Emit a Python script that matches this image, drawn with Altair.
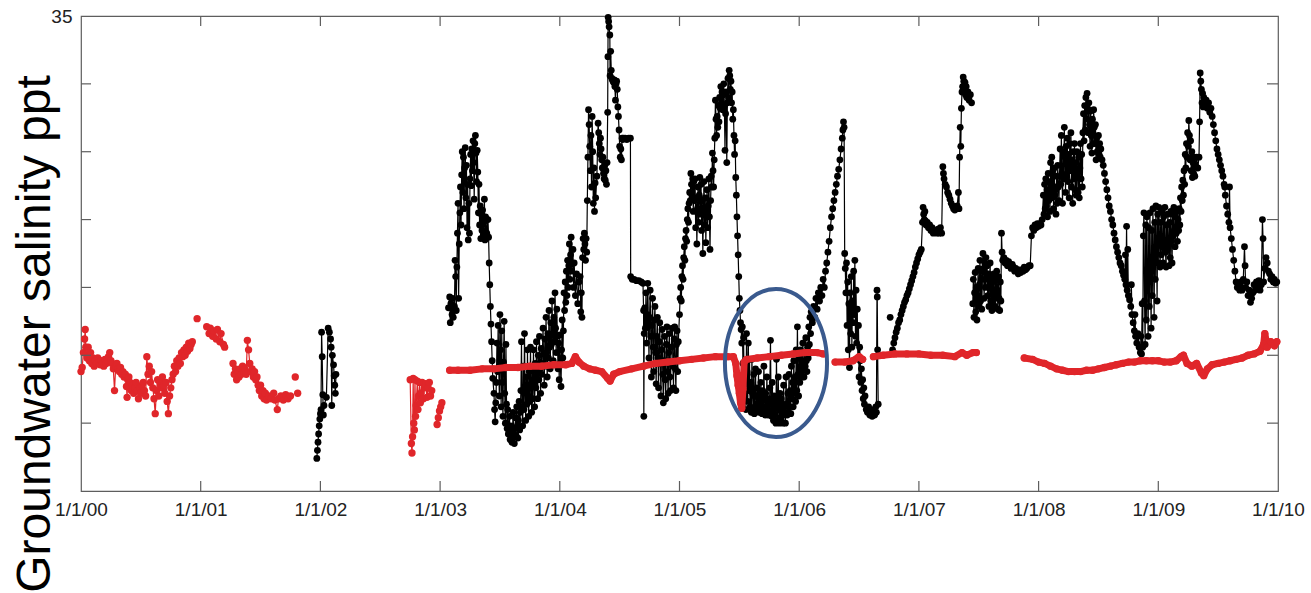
import altair as alt
import pandas as pd

# ---------------------------------------------------------------------------
# Data: (years after 1 Jan 2000, groundwater salinity in ppt)
# ---------------------------------------------------------------------------
black_2002 = [(1.97, 2.4), (1.975, 3.0), (1.98, 3.6), (1.985, 4.2), (1.99, 4.8), (1.995, 5.3),
              (2.0, 5.7), (2.005, 6.0), (2.01, 11.7), (2.015, 9.9), (2.02, 7.1), (2.025, 5.6),
              (2.03, 6.3), (2.05, 6.9), (2.065, 12.0), (2.075, 11.7), (2.085, 11.2), (2.09, 10.6),
              (2.095, 6.3), (2.10, 10.0), (2.11, 9.3), (2.115, 8.5), (2.12, 7.8), (2.125, 7.2), (2.13, 8.6)]

black_2003_2004 = [
    (3.07, 13.5), (3.08, 14.3), (3.085, 12.4), (3.09, 13.8), (3.10, 13.0), (3.105, 14.2), (3.11, 12.8),
    (3.12, 13.6), (3.125, 17.0), (3.13, 15.8), (3.135, 13.3), (3.14, 16.5), (3.145, 19.0), (3.15, 21.2),
    (3.155, 14.2), (3.16, 18.2), (3.165, 20.5), (3.17, 22.4), (3.175, 19.6), (3.18, 23.3), (3.185, 25.0),
    (3.19, 22.0), (3.195, 24.6), (3.20, 20.8), (3.205, 23.8), (3.21, 25.3), (3.215, 21.6), (3.22, 24.0),
    (3.225, 19.4), (3.23, 22.6), (3.235, 18.5), (3.24, 21.2), (3.245, 19.0), (3.25, 23.0), (3.255, 24.8),
    (3.26, 22.5), (3.265, 25.2), (3.27, 23.6), (3.275, 25.8), (3.28, 24.2), (3.285, 21.5), (3.29, 25.6),
    (3.295, 26.2), (3.30, 24.9), (3.305, 22.8), (3.31, 25.1), (3.315, 23.5), (3.32, 20.5), (3.325, 22.6),
    (3.33, 19.6), (3.335, 21.0), (3.34, 18.6), (3.345, 20.4), (3.35, 19.2), (3.355, 20.7), (3.36, 18.8),
    (3.365, 19.8), (3.37, 21.5), (3.375, 18.5), (3.38, 20.2), (3.39, 19.0), (3.40, 20.0), (3.405, 18.7),
    (3.41, 16.8), (3.415, 15.2), (3.42, 13.6), (3.425, 12.3), (3.43, 11.0), (3.435, 9.6), (3.44, 8.3),
    (3.45, 7.2), (3.455, 6.0), (3.46, 5.1), (3.465, 6.5), (3.47, 8.0), (3.475, 10.9), (3.48, 8.8),
    (3.485, 12.2), (3.49, 9.0), (3.495, 7.0), (3.50, 13.0), (3.505, 10.4), (3.51, 6.2), (3.515, 11.8),
    (3.52, 8.0), (3.525, 5.5), (3.53, 9.5), (3.535, 12.5), (3.54, 7.2), (3.545, 5.0), (3.55, 10.8),
    (3.555, 6.4), (3.56, 4.6), (3.565, 6.0), (3.57, 4.2), (3.58, 5.5), (3.585, 3.8), (3.59, 4.8),
    (3.60, 3.6), (3.605, 4.4), (3.61, 5.8), (3.615, 4.0), (3.62, 3.5), (3.625, 4.6), (3.63, 5.4),
    (3.635, 4.1), (3.64, 6.2), (3.645, 4.8), (3.65, 3.9), (3.655, 5.2), (3.66, 6.6), (3.665, 4.5),
    (3.67, 5.8), (3.675, 7.4), (3.68, 11.0), (3.685, 6.2), (3.69, 4.8), (3.695, 9.2), (3.70, 6.0),
    (3.705, 11.6), (3.71, 7.5), (3.715, 5.2), (3.72, 8.4), (3.725, 6.4), (3.73, 10.4), (3.735, 7.0),
    (3.74, 5.5), (3.745, 8.8), (3.75, 6.6), (3.755, 10.6), (3.76, 7.8), (3.765, 5.8), (3.77, 9.0),
    (3.775, 6.8), (3.78, 10.4), (3.785, 8.0), (3.79, 6.2), (3.795, 9.4), (3.80, 7.6), (3.805, 11.0),
    (3.81, 8.8), (3.815, 6.8), (3.82, 10.0), (3.825, 8.2), (3.83, 11.4), (3.835, 9.0), (3.84, 7.2),
    (3.845, 10.5), (3.85, 8.6), (3.86, 12.0), (3.865, 9.4), (3.87, 7.8), (3.875, 11.2), (3.88, 9.2),
    (3.885, 12.8), (3.89, 10.2), (3.895, 8.4), (3.90, 11.6), (3.905, 9.8), (3.91, 13.3), (3.915, 10.6),
    (3.92, 9.0), (3.925, 12.4), (3.93, 10.8), (3.935, 14.0), (3.94, 11.6), (3.945, 9.6), (3.95, 12.8),
    (3.955, 11.0), (3.96, 14.6), (3.965, 12.0), (3.97, 10.2), (3.975, 13.4), (3.98, 11.4), (3.985, 9.0),
    (3.99, 10.9), (3.995, 8.2), (4.00, 11.5), (4.005, 9.4), (4.01, 7.7), (4.015, 10.4), (4.02, 12.6),
    (4.025, 9.8), (4.03, 11.8), (4.035, 14.6), (4.04, 13.3), (4.045, 15.4), (4.05, 13.9), (4.055, 16.2),
    (4.06, 14.4), (4.065, 17.0), (4.07, 15.0), (4.075, 16.6), (4.08, 18.2), (4.085, 15.6), (4.09, 17.4),
    (4.095, 18.7), (4.10, 16.2), (4.11, 17.8), (4.115, 15.0), (4.12, 16.8), (4.13, 14.4), (4.14, 16.0),
    (4.15, 13.8), (4.16, 15.4), (4.17, 15.8), (4.175, 13.2), (4.18, 14.6), (4.185, 12.8), (4.19, 17.2),
    (4.195, 18.6), (4.20, 17.8), (4.205, 19.0), (4.21, 18.2), (4.215, 17.0), (4.22, 18.6), (4.225, 17.6),
    (4.23, 21.4), (4.235, 24.6), (4.24, 28.1), (4.245, 27.0), (4.25, 25.4), (4.255, 23.6), (4.26, 26.2),
    (4.265, 22.4), (4.27, 27.6), (4.275, 25.0), (4.28, 21.2), (4.285, 23.8), (4.29, 20.6), (4.295, 22.7),
    (4.30, 21.6), (4.31, 23.2), (4.32, 27.1), (4.325, 26.4), (4.33, 25.6), (4.335, 24.8), (4.34, 26.0),
    (4.345, 25.2), (4.35, 24.4), (4.355, 23.8), (4.36, 24.6), (4.365, 23.4), (4.37, 23.0), (4.375, 24.0),
    (4.38, 22.9), (4.385, 23.6), (4.39, 22.6), (4.395, 24.2), (4.40, 27.9), (4.402, 32.0), (4.404, 34.9),
    (4.408, 34.6), (4.412, 34.2), (4.418, 33.6), (4.42, 30.6), (4.425, 32.4), (4.43, 31.0), (4.435, 30.4),
    (4.44, 30.3), (4.445, 30.2), (4.45, 30.1), (4.455, 30.3), (4.46, 29.8), (4.465, 28.8), (4.47, 30.0),
    (4.475, 30.2), (4.48, 29.6), (4.485, 28.3), (4.49, 27.6), (4.495, 26.6), (4.50, 25.4), (4.505, 24.6),
    (4.51, 25.2), (4.515, 24.4), (4.52, 26.0), (4.525, 25.9), (4.53, 26.0), (4.545, 26.0), (4.56, 25.9),
    (4.575, 26.0), (4.59, 26.0), (4.592, 15.8), (4.605, 15.6), (4.62, 15.6), (4.64, 15.5), (4.66, 15.5),
    (4.68, 15.4), (4.695, 15.3), (4.70, 13.3), (4.702, 5.5), (4.705, 11.6), (4.71, 13.5), (4.715, 12.0),
    (4.72, 14.6), (4.725, 10.9), (4.73, 13.0), (4.735, 15.3), (4.74, 12.4), (4.745, 9.8), (4.75, 12.8),
    (4.755, 14.8), (4.76, 11.4), (4.765, 8.4), (4.77, 12.2), (4.775, 14.2), (4.78, 10.6), (4.785, 8.8),
    (4.79, 12.6), (4.795, 13.6), (4.80, 10.2), (4.805, 7.9), (4.81, 11.4), (4.815, 12.8), (4.82, 9.8),
    (4.825, 7.6), (4.83, 11.0), (4.835, 12.4), (4.84, 9.4), (4.845, 7.0), (4.85, 10.4), (4.855, 11.9),
    (4.86, 8.6), (4.865, 6.5), (4.87, 9.6), (4.875, 11.4), (4.88, 8.2), (4.885, 6.8), (4.89, 10.8),
    (4.895, 12.1), (4.90, 8.8), (4.905, 7.2), (4.91, 10.2), (4.915, 11.6), (4.92, 8.4), (4.925, 7.4),
    (4.93, 10.6), (4.94, 12.0), (4.945, 9.2), (4.95, 7.6), (4.955, 11.2), (4.96, 12.1), (4.965, 9.0),
    (4.97, 7.4), (4.975, 10.8), (4.98, 11.8), (4.985, 8.8), (4.99, 11.0)]

black_2005_2006 = [
    (5.00, 13.0), (5.005, 14.2), (5.01, 15.0), (5.015, 14.0), (5.02, 15.8), (5.025, 16.6), (5.03, 15.6),
    (5.035, 17.2), (5.04, 18.0), (5.045, 17.0), (5.05, 18.6), (5.055, 19.2), (5.06, 18.4), (5.065, 20.0),
    (5.07, 20.8), (5.075, 19.8), (5.08, 21.2), (5.085, 22.0), (5.09, 21.4), (5.095, 23.4), (5.10, 22.6),
    (5.105, 21.8), (5.11, 23.0), (5.115, 20.6), (5.12, 22.8), (5.125, 21.4), (5.13, 23.0), (5.135, 19.4),
    (5.14, 21.6), (5.145, 18.2), (5.15, 20.8), (5.155, 22.4), (5.16, 19.8), (5.165, 21.8), (5.17, 23.1),
    (5.175, 20.4), (5.18, 22.6), (5.185, 19.2), (5.19, 21.4), (5.195, 17.5), (5.20, 20.8), (5.205, 22.8),
    (5.21, 19.6), (5.215, 21.6), (5.22, 18.3), (5.225, 20.6), (5.23, 22.2), (5.235, 19.4), (5.24, 21.0),
    (5.245, 23.0), (5.25, 20.2), (5.255, 17.8), (5.26, 21.4), (5.265, 23.2), (5.27, 22.4), (5.275, 24.9),
    (5.28, 23.6), (5.285, 22.4), (5.29, 24.4), (5.295, 26.0), (5.30, 28.8), (5.305, 27.4), (5.31, 26.2),
    (5.315, 27.6), (5.32, 26.8), (5.325, 28.4), (5.33, 27.2), (5.335, 29.0), (5.34, 28.2), (5.345, 29.8),
    (5.35, 28.6), (5.355, 29.4), (5.36, 28.1), (5.365, 29.2), (5.37, 30.0), (5.375, 28.4), (5.38, 25.1),
    (5.385, 27.8), (5.39, 29.4), (5.395, 24.2), (5.40, 28.6), (5.405, 30.4), (5.41, 29.0), (5.415, 31.0),
    (5.42, 30.6), (5.425, 29.6), (5.43, 30.2), (5.435, 28.6), (5.44, 29.4), (5.445, 27.4), (5.45, 28.1),
    (5.455, 26.2), (5.46, 24.8), (5.465, 25.8), (5.47, 23.1), (5.475, 21.8), (5.48, 20.2), (5.485, 18.8),
    (5.49, 17.4), (5.495, 15.8), (5.50, 14.2), (5.505, 13.3), (5.51, 12.4), (5.515, 11.9), (5.52, 10.9),
    (5.525, 12.1), (5.53, 9.4), (5.535, 11.3), (5.54, 8.2), (5.545, 7.0), (5.55, 9.6), (5.555, 6.0),
    (5.56, 11.6), (5.565, 8.8), (5.57, 6.6), (5.575, 10.9), (5.58, 7.4), (5.585, 9.7), (5.59, 6.2),
    (5.595, 8.0), (5.60, 5.8), (5.605, 9.7), (5.61, 7.2), (5.615, 6.0), (5.62, 8.6), (5.625, 5.7),
    (5.63, 7.0), (5.635, 9.0), (5.64, 6.4), (5.645, 5.9), (5.65, 7.6), (5.655, 6.2), (5.66, 8.8),
    (5.665, 5.8), (5.67, 7.2), (5.675, 6.0), (5.68, 8.0), (5.685, 6.6), (5.69, 5.7), (5.695, 7.4),
    (5.70, 6.2), (5.705, 9.2), (5.71, 6.8), (5.715, 5.6), (5.72, 7.2), (5.725, 6.0), (5.73, 8.4),
    (5.735, 6.2), (5.74, 5.6), (5.745, 6.8), (5.75, 5.8), (5.755, 7.6), (5.76, 11.1), (5.765, 6.4),
    (5.77, 5.5), (5.775, 8.0), (5.78, 6.0), (5.785, 5.2), (5.79, 7.0), (5.795, 5.6), (5.80, 6.6),
    (5.805, 5.0), (5.81, 9.7), (5.815, 6.2), (5.82, 5.2), (5.825, 8.4), (5.83, 6.0), (5.835, 5.0),
    (5.84, 7.2), (5.845, 5.4), (5.85, 6.8), (5.855, 5.1), (5.86, 6.4), (5.865, 5.0), (5.87, 7.8),
    (5.875, 5.6), (5.88, 6.2), (5.885, 5.0), (5.89, 8.4), (5.895, 6.4), (5.90, 5.6), (5.905, 7.2),
    (5.91, 5.8), (5.915, 8.6), (5.92, 6.2), (5.925, 7.4), (5.93, 5.7), (5.935, 9.2), (5.94, 6.8),
    (5.945, 8.0), (5.95, 6.2), (5.955, 9.6), (5.96, 7.2), (5.965, 8.4), (5.97, 6.6), (5.975, 10.4),
    (5.98, 7.4), (5.985, 12.1), (5.99, 8.6), (5.995, 7.0), (6.00, 9.8), (6.005, 8.0), (6.01, 10.4),
    (6.015, 8.6), (6.02, 9.6), (6.025, 8.4), (6.03, 10.9), (6.035, 9.0), (6.04, 8.4), (6.045, 10.2),
    (6.05, 9.2), (6.055, 11.3), (6.06, 9.6), (6.065, 8.8), (6.07, 10.6), (6.075, 9.8), (6.08, 12.1),
    (6.085, 10.8), (6.09, 12.8), (6.095, 11.6), (6.10, 13.2), (6.11, 12.4), (6.12, 13.6), (6.13, 12.8),
    (6.14, 14.2), (6.15, 13.4), (6.16, 14.6), (6.17, 14.0), (6.18, 15.0), (6.19, 14.4), (6.20, 15.6),
    (6.21, 15.0), (6.22, 16.2), (6.23, 16.8), (6.24, 17.6), (6.25, 18.4), (6.26, 19.4), (6.27, 20.2),
    (6.28, 20.8), (6.29, 21.4), (6.30, 22.0), (6.31, 22.6), (6.32, 23.2), (6.33, 23.7), (6.34, 24.4),
    (6.35, 25.2), (6.36, 26.0), (6.365, 26.6), (6.37, 27.2), (6.375, 26.8), (6.38, 17.5), (6.385, 16.4),
    (6.39, 14.6), (6.395, 16.8), (6.40, 12.2), (6.405, 15.4), (6.41, 10.4), (6.415, 13.8), (6.42, 9.1),
    (6.425, 14.6), (6.43, 11.6), (6.435, 15.8), (6.44, 10.6), (6.445, 14.0), (6.45, 12.4), (6.455, 16.2),
    (6.46, 13.0), (6.465, 17.0), (6.47, 11.4), (6.475, 14.8), (6.48, 10.9), (6.485, 13.4), (6.49, 9.8),
    (6.495, 12.2), (6.50, 8.4), (6.505, 10.6), (6.51, 9.6), (6.515, 8.0), (6.52, 9.0), (6.525, 7.4),
    (6.53, 8.2), (6.535, 6.8), (6.54, 7.6), (6.545, 6.4), (6.55, 7.0), (6.56, 6.0), (6.57, 5.8),
    (6.58, 6.2), (6.59, 5.6), (6.60, 5.9), (6.61, 5.5), (6.62, 6.0), (6.63, 5.6), (6.64, 6.2),
    (6.645, 5.8), (6.65, 14.8), (6.652, 14.3), (6.655, 10.4), (6.66, 6.4)]

black_2006_single = [(6.76, 12.8)]

black_2007 = [
    (6.78, 10.4), (6.79, 10.9), (6.80, 11.3), (6.81, 11.7), (6.82, 12.0), (6.83, 12.4), (6.84, 12.6),
    (6.85, 13.0), (6.86, 13.3), (6.87, 13.6), (6.88, 13.9), (6.89, 14.1), (6.90, 14.4), (6.91, 14.6),
    (6.92, 14.9), (6.93, 15.2), (6.94, 15.5), (6.95, 15.8), (6.96, 16.1), (6.97, 16.5), (6.98, 16.8),
    (6.99, 17.1), (7.00, 17.4), (7.01, 17.6), (7.02, 17.8), (7.03, 19.8), (7.035, 20.9), (7.04, 20.4),
    (7.045, 20.0), (7.05, 20.6), (7.055, 19.9), (7.06, 19.6), (7.07, 19.8), (7.08, 19.4), (7.09, 19.6),
    (7.10, 19.2), (7.11, 19.4), (7.12, 19.0), (7.13, 19.2), (7.14, 19.1), (7.15, 19.0), (7.16, 19.3),
    (7.17, 19.0), (7.18, 19.4), (7.19, 19.0), (7.20, 23.9), (7.205, 23.4), (7.21, 23.0), (7.22, 22.6),
    (7.23, 22.4), (7.24, 22.0), (7.25, 21.8), (7.26, 21.5), (7.27, 21.2), (7.28, 21.0), (7.29, 20.8),
    (7.30, 20.7), (7.31, 20.9), (7.32, 21.0), (7.33, 22.0), (7.335, 20.8), (7.34, 24.6), (7.345, 26.8),
    (7.35, 25.4), (7.355, 28.2), (7.36, 29.4), (7.365, 29.8), (7.37, 30.5), (7.375, 30.2), (7.38, 29.6),
    (7.385, 30.1), (7.39, 29.2), (7.395, 29.8), (7.40, 29.0), (7.41, 29.4), (7.42, 28.8), (7.43, 29.2),
    (7.44, 28.6)]

black_2008_2009 = [
    (7.45, 13.8), (7.455, 15.6), (7.46, 12.8), (7.465, 14.6), (7.47, 16.1), (7.475, 13.2), (7.48, 15.0),
    (7.485, 12.6), (7.49, 14.4), (7.495, 16.4), (7.50, 13.6), (7.505, 15.2), (7.51, 17.0), (7.515, 14.0),
    (7.52, 16.2), (7.525, 13.4), (7.53, 15.6), (7.535, 17.5), (7.54, 16.4), (7.545, 14.2), (7.55, 16.8),
    (7.555, 15.0), (7.56, 17.2), (7.565, 15.6), (7.57, 16.6), (7.575, 14.4), (7.58, 16.0), (7.585, 13.6),
    (7.59, 15.2), (7.595, 16.8), (7.60, 14.0), (7.605, 15.8), (7.61, 13.3), (7.615, 15.4), (7.62, 13.8),
    (7.625, 16.0), (7.63, 14.6), (7.635, 13.6), (7.64, 15.6), (7.645, 14.2), (7.65, 16.2), (7.655, 14.8),
    (7.66, 13.4), (7.665, 15.8), (7.67, 14.2), (7.675, 13.3), (7.68, 15.4), (7.685, 14.0), (7.69, 19.0),
    (7.695, 17.6), (7.70, 17.0), (7.71, 17.2), (7.72, 16.8), (7.73, 17.0), (7.74, 16.6), (7.75, 16.9),
    (7.76, 16.7), (7.77, 16.4), (7.78, 16.7), (7.79, 16.5), (7.80, 16.2), (7.81, 16.4), (7.82, 16.2),
    (7.83, 16.0), (7.84, 16.3), (7.85, 16.1), (7.86, 16.3), (7.87, 16.2), (7.88, 16.5), (7.89, 16.3),
    (7.90, 16.4), (7.91, 16.5), (7.92, 16.6), (7.93, 16.6), (7.94, 18.8), (7.95, 19.4), (7.96, 19.2),
    (7.97, 19.6), (7.98, 19.4), (7.99, 19.7), (8.00, 19.5), (8.01, 19.7), (8.02, 19.6), (8.03, 20.0),
    (8.04, 21.8), (8.045, 20.4), (8.05, 22.6), (8.055, 20.8), (8.06, 23.0), (8.065, 21.0), (8.07, 22.2),
    (8.075, 20.2), (8.08, 23.4), (8.085, 21.4), (8.09, 22.8), (8.095, 20.6), (8.10, 24.2), (8.105, 22.0),
    (8.11, 24.6), (8.115, 21.6), (8.12, 23.6), (8.125, 20.8), (8.13, 23.8), (8.135, 21.8), (8.14, 22.4),
    (8.145, 20.4), (8.15, 23.2), (8.155, 21.2), (8.16, 24.0), (8.165, 22.4), (8.17, 21.4), (8.18, 25.2),
    (8.185, 22.6), (8.19, 26.2), (8.195, 23.4), (8.20, 21.2), (8.205, 25.0), (8.21, 23.0), (8.215, 26.8),
    (8.22, 24.6), (8.225, 22.0), (8.23, 25.4), (8.235, 23.2), (8.24, 26.0), (8.245, 22.8), (8.25, 24.8),
    (8.255, 21.6), (8.26, 25.6), (8.265, 23.6), (8.27, 26.4), (8.275, 22.4), (8.28, 24.4), (8.285, 21.2),
    (8.29, 25.0), (8.295, 23.0), (8.30, 25.6), (8.305, 22.2), (8.31, 24.2), (8.315, 21.8), (8.32, 25.0),
    (8.325, 23.4), (8.33, 22.0), (8.335, 24.6), (8.34, 21.6), (8.345, 23.8), (8.35, 25.6), (8.355, 23.0),
    (8.36, 24.8), (8.365, 22.4), (8.37, 26.4), (8.375, 27.8), (8.38, 25.8), (8.385, 28.4), (8.39, 26.6),
    (8.395, 29.0), (8.40, 27.4), (8.405, 29.3), (8.41, 28.2), (8.415, 26.4), (8.42, 28.6), (8.425, 27.0),
    (8.43, 25.4), (8.435, 28.0), (8.44, 26.2), (8.445, 24.9), (8.45, 27.4), (8.455, 25.6), (8.46, 28.1),
    (8.465, 26.8), (8.47, 25.6), (8.475, 27.0), (8.48, 24.4), (8.485, 26.0), (8.49, 25.0), (8.50, 26.2),
    (8.505, 24.8), (8.51, 25.6), (8.515, 24.6), (8.52, 25.2), (8.53, 24.4), (8.54, 24.0), (8.55, 23.4),
    (8.56, 22.8), (8.57, 22.2), (8.58, 21.6), (8.59, 21.0), (8.60, 20.6), (8.61, 20.0), (8.62, 19.6),
    (8.63, 19.0), (8.64, 18.5), (8.65, 18.0), (8.66, 17.6), (8.67, 17.2), (8.68, 16.8), (8.69, 16.6),
    (8.70, 16.2), (8.71, 15.9), (8.72, 15.6), (8.725, 17.4), (8.73, 15.2), (8.735, 19.5), (8.74, 14.8),
    (8.745, 17.8), (8.75, 14.4), (8.76, 14.1), (8.77, 13.6), (8.775, 15.2), (8.78, 13.0), (8.79, 12.4),
    (8.80, 11.8), (8.805, 13.0), (8.81, 11.4), (8.82, 10.9), (8.83, 11.6), (8.84, 10.6), (8.85, 10.2),
    (8.855, 11.4), (8.86, 10.1), (8.865, 13.8), (8.87, 10.6), (8.875, 18.8), (8.88, 20.5), (8.885, 14.0),
    (8.89, 10.8), (8.895, 19.6), (8.90, 12.6), (8.905, 20.2), (8.91, 15.8), (8.915, 11.4), (8.92, 19.4),
    (8.925, 13.6), (8.93, 20.5), (8.935, 16.4), (8.94, 12.0), (8.945, 19.2), (8.95, 14.4), (8.955, 20.8),
    (8.96, 17.2), (8.965, 12.8), (8.97, 19.8), (8.975, 15.6), (8.98, 21.0), (8.985, 18.0), (8.99, 14.0),
    (8.995, 20.4), (9.00, 16.8), (9.005, 20.9), (9.01, 18.6), (9.015, 16.5), (9.02, 19.8), (9.025, 17.4),
    (9.03, 20.6), (9.035, 18.0), (9.04, 16.8), (9.045, 20.2), (9.05, 18.4), (9.055, 20.9), (9.06, 17.6),
    (9.065, 16.5), (9.07, 19.6), (9.075, 17.8), (9.08, 20.4), (9.085, 18.2), (9.09, 16.6), (9.095, 19.8),
    (9.10, 17.2), (9.105, 20.6), (9.11, 18.4), (9.115, 16.8), (9.12, 20.4), (9.125, 18.8), (9.13, 20.9),
    (9.135, 19.2), (9.14, 18.0), (9.145, 20.2), (9.15, 19.0), (9.155, 20.6), (9.16, 18.4), (9.165, 20.0),
    (9.17, 19.2), (9.175, 20.8), (9.18, 19.6), (9.185, 21.6), (9.19, 20.6), (9.195, 22.4), (9.20, 21.4),
    (9.205, 22.9), (9.21, 21.8), (9.215, 23.6), (9.22, 22.6), (9.225, 24.8), (9.23, 23.8), (9.235, 25.6),
    (9.24, 24.6), (9.245, 26.4), (9.25, 25.4), (9.255, 27.3), (9.26, 26.2), (9.265, 24.4), (9.27, 25.8),
    (9.275, 23.6), (9.28, 25.0), (9.285, 23.1), (9.29, 24.2), (9.295, 23.4), (9.30, 24.6), (9.305, 23.2),
    (9.31, 24.0), (9.32, 24.6), (9.33, 23.8), (9.34, 24.6), (9.345, 27.2), (9.35, 30.8), (9.355, 30.2),
    (9.36, 29.6), (9.365, 28.6), (9.37, 29.3), (9.375, 28.3), (9.38, 29.0), (9.39, 28.4), (9.40, 28.8),
    (9.41, 28.2), (9.42, 28.6), (9.43, 27.9), (9.44, 28.2), (9.45, 27.6), (9.46, 27.0), (9.47, 26.4),
    (9.48, 25.8), (9.49, 25.2), (9.50, 24.8), (9.51, 24.4), (9.52, 24.0), (9.53, 23.6), (9.54, 23.2),
    (9.55, 22.6), (9.555, 22.4), (9.56, 21.8), (9.57, 21.0), (9.58, 20.4), (9.59, 19.8), (9.595, 22.4),
    (9.60, 19.4), (9.61, 18.6), (9.62, 17.8), (9.63, 17.0), (9.64, 16.2), (9.65, 15.4), (9.66, 15.0),
    (9.67, 15.2), (9.68, 14.8), (9.69, 15.4), (9.70, 14.8), (9.71, 15.6), (9.72, 18.0), (9.725, 16.6),
    (9.73, 15.0), (9.74, 15.4), (9.75, 14.4), (9.76, 14.8), (9.77, 13.9), (9.78, 14.2), (9.79, 14.6),
    (9.80, 15.2), (9.81, 14.8), (9.82, 15.4), (9.83, 15.0), (9.84, 15.5), (9.85, 14.8), (9.86, 15.2),
    (9.87, 20.0), (9.875, 18.6), (9.88, 15.4), (9.89, 16.4), (9.90, 17.2), (9.91, 16.8), (9.92, 16.2),
    (9.93, 16.0), (9.94, 15.6), (9.95, 15.8), (9.96, 15.4), (9.97, 15.6), (9.98, 15.3), (9.99, 15.4)]

red_2000 = [
    (0.00, 8.8), (0.01, 9.1), (0.02, 10.2), (0.03, 11.2), (0.035, 11.9), (0.04, 10.6), (0.05, 9.8),
    (0.06, 10.6), (0.07, 9.6), (0.08, 10.2), (0.09, 9.4), (0.10, 9.8), (0.11, 9.2), (0.12, 9.6),
    (0.13, 9.4), (0.14, 9.8), (0.15, 9.5), (0.16, 9.3), (0.17, 9.6), (0.18, 9.4), (0.19, 9.2),
    (0.20, 9.7), (0.21, 9.4), (0.22, 9.6), (0.23, 9.9), (0.24, 10.2), (0.25, 9.6), (0.26, 9.4),
    (0.27, 9.0), (0.28, 7.4), (0.29, 9.2), (0.30, 9.4), (0.31, 9.0), (0.32, 8.8), (0.33, 9.1),
    (0.34, 8.6), (0.35, 8.8), (0.36, 8.4), (0.37, 8.6), (0.38, 7.7), (0.385, 6.9), (0.39, 8.2),
    (0.40, 8.4), (0.41, 8.0), (0.42, 7.4), (0.43, 7.8), (0.44, 7.2), (0.45, 7.6), (0.46, 8.0),
    (0.47, 7.4), (0.48, 6.8), (0.49, 7.6), (0.50, 7.2), (0.51, 7.8), (0.52, 8.0), (0.53, 7.4),
    (0.54, 7.0), (0.55, 9.9), (0.56, 8.6), (0.57, 9.2), (0.58, 8.0), (0.59, 8.8), (0.60, 7.6),
    (0.61, 6.8), (0.62, 5.7), (0.63, 7.4), (0.64, 8.2), (0.65, 7.0), (0.66, 8.0), (0.67, 7.6),
    (0.68, 8.4), (0.69, 7.8), (0.70, 7.2), (0.71, 8.0), (0.72, 6.6), (0.73, 5.7), (0.74, 7.0),
    (0.75, 7.6), (0.76, 8.2), (0.77, 8.6), (0.78, 9.2), (0.79, 8.8), (0.80, 9.6), (0.81, 9.2),
    (0.82, 9.8), (0.83, 9.4), (0.84, 10.2), (0.85, 9.9), (0.86, 10.4), (0.87, 10.0), (0.88, 10.6),
    (0.89, 10.3), (0.90, 10.9), (0.91, 10.5), (0.92, 10.8), (0.93, 11.0)]
red_2001_a = [(0.97, 12.7)]
red_2001_b = [(1.05, 12.1), (1.07, 11.6), (1.08, 12.0), (1.10, 11.4), (1.11, 11.8), (1.13, 11.2),
              (1.14, 11.9), (1.16, 11.0), (1.17, 11.6), (1.19, 10.8), (1.20, 10.6)]
red_2001_c = [
    (1.27, 9.4), (1.28, 8.6), (1.29, 9.0), (1.30, 8.2), (1.31, 8.8), (1.32, 8.4), (1.33, 9.0),
    (1.34, 8.6), (1.35, 9.2), (1.36, 8.8), (1.37, 9.0), (1.38, 8.6), (1.39, 11.1), (1.40, 10.4),
    (1.41, 9.4), (1.42, 8.8), (1.43, 9.0), (1.44, 8.4), (1.45, 8.8), (1.46, 8.2), (1.47, 8.4),
    (1.48, 7.8), (1.49, 7.4), (1.50, 7.8), (1.51, 7.0), (1.52, 7.4), (1.53, 6.8), (1.54, 7.2),
    (1.55, 6.7), (1.57, 7.0), (1.59, 6.8), (1.61, 7.2), (1.62, 6.7), (1.64, 6.0), (1.65, 6.8),
    (1.67, 7.0), (1.69, 6.7), (1.71, 7.1), (1.73, 6.8), (1.75, 7.0)]
red_2001_d = [(1.79, 8.4)]
red_2001_e = [(1.81, 7.2)]
red_2002 = [
    (2.75, 8.2), (2.76, 3.5), (2.765, 2.8), (2.77, 4.0), (2.775, 8.3), (2.78, 5.0), (2.785, 4.5),
    (2.79, 8.2), (2.795, 5.5), (2.80, 6.3), (2.81, 8.1), (2.815, 6.0), (2.82, 7.0), (2.83, 8.0),
    (2.835, 6.5), (2.84, 7.2), (2.85, 8.0), (2.86, 6.8), (2.87, 7.6), (2.88, 7.9), (2.89, 6.9),
    (2.90, 7.6), (2.91, 8.0), (2.92, 7.0), (2.93, 7.4)]
red_2003_early = [(2.975, 4.9), (2.985, 5.4), (2.995, 5.9), (3.005, 6.2), (3.015, 6.5)]
red_2003_2006 = [
    (3.08, 8.9), (3.15, 8.9), (3.25, 8.9), (3.35, 9.0), (3.45, 9.0), (3.55, 9.1), (3.65, 9.1),
    (3.75, 9.2), (3.85, 9.2), (3.95, 9.3), (4.05, 9.3), (4.10, 9.4), (4.13, 9.9), (4.16, 9.5),
    (4.20, 9.2), (4.25, 9.0), (4.30, 8.9), (4.35, 8.8), (4.40, 8.3), (4.42, 8.1), (4.45, 8.6),
    (4.50, 8.8), (4.60, 9.0), (4.70, 9.2), (4.80, 9.4), (4.90, 9.5), (5.00, 9.6), (5.10, 9.7),
    (5.20, 9.8), (5.30, 9.9), (5.40, 9.9), (5.45, 9.9), (5.47, 9.4), (5.48, 8.5), (5.49, 7.8),
    (5.50, 7.2), (5.51, 6.5), (5.52, 6.1), (5.53, 7.5), (5.54, 9.5), (5.56, 9.7), (5.65, 9.8),
    (5.75, 9.9), (5.85, 10.0), (5.95, 10.1), (6.05, 10.2), (6.15, 10.2), (6.20, 10.1)]
red_2006 = [(6.30, 9.5), (6.38, 9.5), (6.45, 9.6), (6.50, 9.9), (6.53, 9.7)]
red_2007 = [(6.62, 9.9), (6.70, 10.0), (6.80, 10.1), (6.90, 10.1), (7.00, 10.1), (7.10, 10.0),
            (7.20, 10.0), (7.30, 9.9), (7.36, 10.2), (7.40, 10.0), (7.45, 10.2), (7.48, 10.2)]
red_2008_2009 = [
    (7.88, 9.8), (7.95, 9.7), (8.0, 9.5), (8.05, 9.4), (8.10, 9.2), (8.15, 9.0), (8.20, 8.9),
    (8.25, 8.8), (8.30, 8.8), (8.35, 8.8), (8.40, 8.9), (8.45, 8.9), (8.50, 9.0), (8.55, 9.1),
    (8.60, 9.2), (8.65, 9.3), (8.70, 9.4), (8.75, 9.5), (8.80, 9.5), (8.85, 9.6), (8.90, 9.6),
    (8.95, 9.6), (9.00, 9.6), (9.05, 9.5), (9.10, 9.5), (9.15, 9.6), (9.19, 9.9), (9.21, 10.0),
    (9.24, 9.4), (9.28, 9.2), (9.32, 9.4), (9.36, 8.7), (9.38, 8.5), (9.41, 9.0), (9.45, 9.3),
    (9.50, 9.4), (9.55, 9.5), (9.60, 9.6), (9.65, 9.7), (9.70, 9.8), (9.75, 10.0), (9.80, 10.1),
    (9.85, 10.3), (9.88, 10.8), (9.89, 11.6), (9.91, 10.6), (9.94, 11.0), (9.97, 10.7), (9.99, 11.0)]

x_tick_years = [2000, 2001, 2002, 2003, 2004, 2005, 2006, 2007, 2008, 2009, 2010]
inner_x_ticks = [2001, 2002, 2003, 2004, 2005, 2006, 2007, 2008, 2009]
y_tick_values = [0, 5, 10, 15, 20, 25, 30, 35]
inner_y_ticks = [5, 10, 15, 20, 25, 30]
circle_center_year = [2005.806]
circle_center_ppt = [9.43]
y_title = "Groundwater salinity ppt"

# ---------------------------------------------------------------------------
W, H = 1197, 475
FONT = "Liberation Sans, Arial, Helvetica, sans-serif"
RED = "#e0262a"
FRAME = "#5e5e5e"


def frame(segments, prefix):
    rows = []
    for k, (pts, width) in enumerate(segments):
        for i, (t, v) in enumerate(pts):
            rows.append({"t": 2000 + t, "v": v, "seg": f"{prefix}{k}", "i": i, "w": width})
    return pd.DataFrame(rows)


black_df = frame([(black_2002, 1), (black_2003_2004 + black_2005_2006, 1), (black_2006_single, 1),
                  (black_2007, 1), (black_2008_2009, 1)], "b")
red_df = frame([(red_2000, 1.2), (red_2001_a, 1.2), (red_2001_b, 1.2), (red_2001_c, 1.2),
                (red_2001_d, 1.2), (red_2001_e, 1.2), (red_2002, 1.2), (red_2003_early, 1.2),
                (red_2003_2006, 7), (red_2006, 7), (red_2007, 7), (red_2008_2009, 7)], "r")

xscale = alt.Scale(domain=[2000, 2010], nice=False, zero=False)
yscale = alt.Scale(domain=[0, 35], nice=False, zero=True)
xaxis = alt.Axis(values=x_tick_years, title=None, grid=False, domain=False, ticks=False, tickSize=0,
                 labelExpr="'1/1/' + (datum.value >= 2010 ? '' : '0') + (datum.value - 2000)",
                 labelFont=FONT, labelFontSize=19, labelColor="#222", labelPadding=9,
                 labelFlush=False, labelOverlap=False)
yaxis = alt.Axis(values=y_tick_values, title=None, grid=False, domain=False, ticks=False, tickSize=0,
                 labelExpr="datum.value == 35 ? '35' : ''", labelFont=FONT, labelFontSize=19,
                 labelColor="#222", labelPadding=9, labelFlush=False, labelOverlap=False)

X = alt.X("t:Q", scale=xscale, axis=xaxis)
Y = alt.Y("v:Q", scale=yscale, axis=yaxis)

black_line = alt.Chart(black_df).mark_line(color="black", strokeWidth=1.2).encode(
    x=X, y=Y, detail="seg:N", order="i:Q")
black_pts = alt.Chart(black_df).mark_circle(color="black", size=46, opacity=1).encode(x=X, y=Y)

red_line = alt.Chart(red_df).mark_line(color=RED, strokeCap="round", strokeJoin="round").encode(
    x=X, y=Y, detail="seg:N", order="i:Q", strokeWidth=alt.StrokeWidth("w:Q", scale=None))
red_pts = alt.Chart(red_df).mark_circle(color=RED, size=54, opacity=1).encode(x=X, y=Y)

# blue ellipse annotation (unit ellipse drawn with bezier curves; rx/ry = 0.69)
a, k = 0.69, 0.5523
ellipse_path = (f"M 0 -1 C {k*a:.4f} -1 {a} -{k} {a} 0 C {a} {k} {k*a:.4f} 1 0 1 "
                f"C -{k*a:.4f} 1 -{a} {k} -{a} 0 C -{a} -{k} -{k*a:.4f} -1 0 -1 Z")
ellipse_df = pd.DataFrame({"t": circle_center_year, "v": circle_center_ppt})
ellipse = alt.Chart(ellipse_df).mark_point(
    shape=ellipse_path, size=148 * 148, filled=False, stroke="#3a5a8e", strokeWidth=4, opacity=1
).encode(x=X, y=Y)

# inward-pointing ticks of the boxed frame
xt_df = pd.DataFrame({"t": inner_x_ticks})
yt_df = pd.DataFrame({"v": inner_y_ticks})
tick_style = dict(color=FRAME, strokeWidth=1.2)
bottom_ticks = alt.Chart(xt_df).mark_rule(**tick_style).encode(
    x=X, y=alt.value(H), y2=alt.value(H - 10))
top_ticks = alt.Chart(xt_df).mark_rule(**tick_style).encode(
    x=X, y=alt.value(0), y2=alt.value(10))
left_ticks = alt.Chart(yt_df).mark_rule(**tick_style).encode(
    y=Y, x=alt.value(0), x2=alt.value(10))
right_ticks = alt.Chart(yt_df).mark_rule(**tick_style).encode(
    y=Y, x=alt.value(W), x2=alt.value(W - 11))

title_df = pd.DataFrame({"label": [y_title]})
ytitle = alt.Chart(title_df).mark_text(
    angle=270, font=FONT, fontSize=48, color="#000", align="center", baseline="alphabetic"
).encode(text="label:N", x=alt.value(-31), y=alt.value(318))

chart = alt.layer(
    black_line, black_pts, red_line, red_pts, ellipse,
    bottom_ticks, top_ticks, left_ticks, right_ticks, ytitle
).properties(
    width=W, height=H,
    autosize=alt.AutoSizeParams(type="none"),
    padding={"left": 81, "top": 16, "right": 33, "bottom": 102},
    background="white",
).configure_view(stroke=FRAME, strokeWidth=1.2)

chart.save("out.html", embed_options={"renderer": "svg", "actions": False})
